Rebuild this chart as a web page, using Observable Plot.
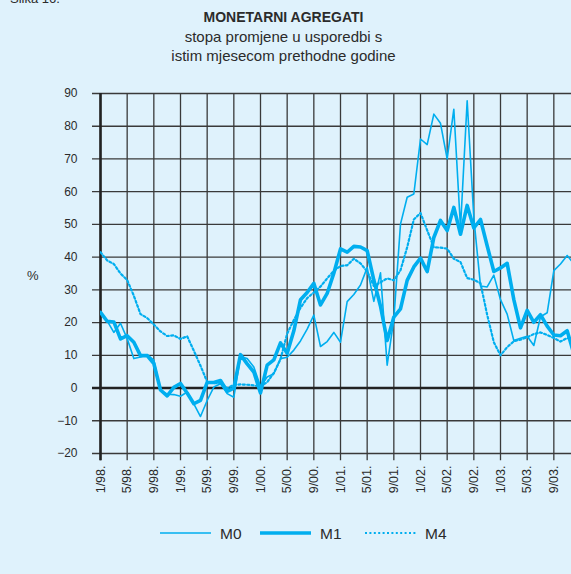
<!DOCTYPE html>
<html><head><meta charset="utf-8">
<script src="https://cdn.jsdelivr.net/npm/d3@7"></script>
<script src="https://cdn.jsdelivr.net/npm/@observablehq/plot@0.6"></script>
<style>
html,body{margin:0;padding:0;width:571px;height:574px;overflow:hidden;background:#dff2fc;font-family:"Liberation Sans",Arial,sans-serif;color:#2b2b2b;}
#wrap{position:relative;width:571px;height:574px;overflow:hidden;}
.abs{position:absolute;white-space:nowrap;}
</style></head><body><div id="wrap">
<div class="abs" style="left:10px;top:-9px;font-size:13px;line-height:15px;">Slika 16.</div>
<div class="abs" style="left:0;width:567px;top:8px;text-align:center;font-size:14px;font-weight:bold;line-height:19px;">MONETARNI AGREGATI</div>
<div class="abs" style="left:0;width:567px;top:27px;text-align:center;font-size:15px;line-height:19px;">stopa promjene u usporedbi s<br>istim mjesecom prethodne godine</div>
<div class="abs" style="left:27px;top:268px;font-size:13px;line-height:16px;">%</div>
<div id="chart" class="abs" style="left:0;top:80px;"></div>
<div id="legend" class="abs" style="left:0;top:520px;"></div>
</div>
<script>
const tickLabels = ["1/98.","5/98.","9/98.","1/99.","5/99.","9/99.","1/00.","5/00.","9/00.","1/01.","5/01.","9/01.","1/02.","5/02.","9/02.","1/03.","5/03.","9/03."];
const yTicks = [-20,-10,0,10,20,30,40,50,60,70,80,90];
const seriesNames = ["M0","M1","M4"];
// monthly values, January 1998 onward
const m0 = [23.2,20.5,17,19.8,15.1,9,9.5,10.2,8.5,-0.7,-1.9,-2,
  -2.5,-1.2,-4.8,-8.7,-3.8,0.3,1.3,-1.7,-2.8,9.6,9,6.4,
  0.5,3.4,4.4,9,9.4,11.6,14.4,18,22.3,12.7,14.2,17,
  14,26.4,28.6,31.5,36.8,26.5,35.2,7,21,50.1,58.3,59.3,
  76.1,74.4,83.7,80.9,70,85.2,49,87.8,52,31.2,30.9,34.5,
  27,22.6,14.5,15.2,15.8,13,21.8,23,35.9,37.9,40.5,38];
const m1 = [23.1,20.4,20.2,15,16,14,9.9,9.9,7.5,-0.6,-2.4,0.2,
  1.4,-1.5,-4.8,-3.8,1.7,1.7,2.3,-1,0,10.2,7.4,4.9,
  -1.5,7,8.6,13.8,10.6,17.5,27,29.2,32,25.4,28.9,35.1,
  42.5,41.5,43.3,43.1,42,33,25,14.5,21.7,24.2,32.9,37,
  39.7,35.6,46,51.2,48.1,55.2,47,55.8,48.9,51.5,43.5,35.6,
  36.7,38.1,27,18.4,23.7,20.1,22.4,18.9,16.2,16,17.5,10.5];
const m4 = [41.5,39,37.9,35,33,28.2,22.6,21.4,19.4,17.3,15.9,16.1,
  15,15.8,11.4,6.8,1.9,1.5,1.5,-0.1,1,1.1,1,0.8,
  0.5,1.8,4.6,8.8,16.6,20.8,24.5,27.5,29.2,31,33.5,35.8,
  37.3,37.5,39.5,38.1,35.6,31.2,32.3,33.5,32.9,36,43,51.5,
  53.5,48.2,43,42.9,42.6,39.5,38.5,33.6,33.1,32,22.4,14,
  10,12.5,14.3,14.8,15.5,16.5,17,16.2,15.3,14.2,15.3,15];

const color = "#00aeef";
const grid = "#3a3a3a";
const xTicks = tickLabels.map((_, k) => k * 4);
const xMax = 70.65;
const toPts = arr => arr.map((v, i) => ({i, v}));

const chart = Plot.plot({
  width: 571, height: 430,
  marginLeft: 100, marginRight: 0, marginTop: 13, marginBottom: 57,
  style: {background: "transparent", color: "#2b2b2b", fontFamily: "Liberation Sans, Arial, sans-serif"},
  x: {type: "linear", domain: [0, xMax]},
  y: {domain: [-20, 90]},
  marks: [
    Plot.ruleY(yTicks, {x1: -1.2, x2: xMax, stroke: grid, strokeWidth: 1.3}),
    Plot.ruleX(xTicks, {y1: -22.2, y2: 90, stroke: grid, strokeWidth: 1.3}),
    Plot.ruleY([0], {x1: -1.2, x2: xMax, stroke: "#222", strokeWidth: 2.4}),
    Plot.ruleX([0], {y1: -22.2, y2: 90, stroke: "#222", strokeWidth: 2.6}),
    Plot.line(toPts(m4), {x: "i", y: "v", stroke: color, strokeWidth: 2.2, strokeDasharray: "2,2.4", clip: true}),
    Plot.line(toPts(m0), {x: "i", y: "v", stroke: color, strokeWidth: 1.6, strokeLinejoin: "round", clip: true}),
    Plot.line(toPts(m1), {x: "i", y: "v", stroke: color, strokeWidth: 3.6, strokeLinejoin: "round", clip: true}),
    Plot.axisY({ticks: yTicks, tickSize: 0, tickPadding: 23, fontSize: 12, label: null}),
    Plot.axisX({ticks: xTicks, tickSize: 0, tickPadding: 12, tickRotate: -90, fontSize: 12.5, label: null,
      tickFormat: d => tickLabels[Math.round(d / 4)]})
  ]
});
document.getElementById("chart").appendChild(chart);

// legend
const lg = d3.select("#legend").append("svg").attr("width", 571).attr("height", 28);
const items = [
  {x: 160, w: 1.6, dash: null},
  {x: 260, w: 3.6, dash: null},
  {x: 365, w: 2.2, dash: "2,2.4"}
];
items.forEach((it, k) => {
  const l = lg.append("line").attr("x1", it.x).attr("x2", it.x + 51).attr("y1", 13).attr("y2", 13)
    .attr("stroke", color).attr("stroke-width", it.w);
  if (it.dash) l.attr("stroke-dasharray", it.dash);
  lg.append("text").attr("x", it.x + 60).attr("y", 18.5).attr("font-size", 15.5)
    .attr("font-family", "Liberation Sans, Arial, sans-serif").attr("fill", "#2b2b2b").text(seriesNames[k]);
});
</script>
</body></html>
